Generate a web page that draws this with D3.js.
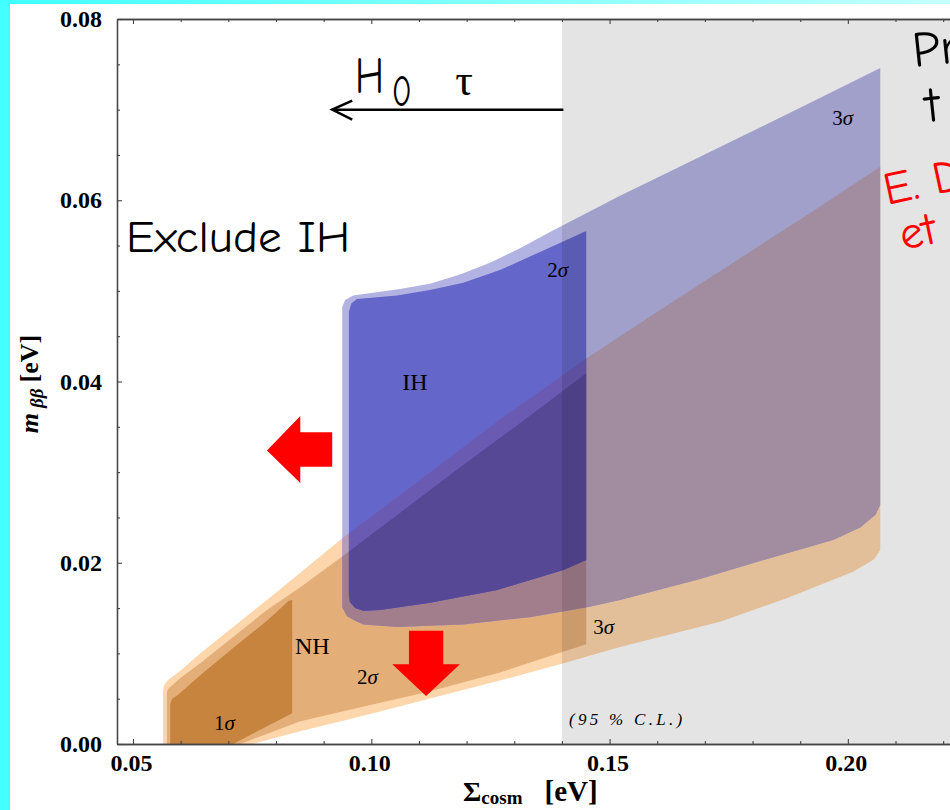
<!DOCTYPE html>
<html><head><meta charset="utf-8">
<script src="https://cdn.jsdelivr.net/npm/d3@7"></script>
<style>body{margin:0;background:#fff;overflow:hidden}svg{display:block}</style>
</head><body>
<svg id="c" width="950" height="810"></svg>
<script>
// ---------- data ----------
const xMajor = [0.05, 0.10, 0.15, 0.20];
const xMajorLabels = ["0.05", "0.10", "0.15", "0.20"];
const xMinor = [0.06,0.07,0.08,0.09,0.11,0.12,0.13,0.14,0.16,0.17,0.18,0.19,0.21,0.22];
const yMajor = [0.00, 0.02, 0.04, 0.06, 0.08];
const yMajorLabels = ["0.00", "0.02", "0.04", "0.06", "0.08"];
const yMinor = [0.005,0.01,0.015,0.025,0.03,0.035,0.045,0.05,0.055,0.065,0.07,0.075];
const greyStart = 0.14; // shaded (disfavoured) region starts here

// NH regions [sum m_nu, m_bb]
const nh3 = [[0.0563,0],[0.0563,0.0060],[0.0566,0.0066],[0.0574,0.0071],[0.0600,0.0081],[0.0641,0.0100],[0.0710,0.0129],[0.0781,0.0159],[0.0851,0.0189],[0.0939,0.0227],[0.1102,0.0291],[0.1270,0.0358],[0.1453,0.0426],[0.1606,0.0479],[0.1768,0.0534],[0.1921,0.0586],[0.2068,0.0637],[0.2068,0.0214],[0.2055,0.0204],[0.2011,0.0190],[0.1873,0.0161],[0.1732,0.0135],[0.1522,0.0107],[0.1396,0.0088],[0.1270,0.0070],[0.1115,0.0049],[0.0998,0.0033],[0.0851,0.0014],[0.0750,0]];
const nh2 = [[0.0571,0],[0.0571,0.0057],[0.0574,0.0061],[0.0600,0.0073],[0.0641,0.0089],[0.0710,0.0118],[0.0781,0.0148],[0.0851,0.0173],[0.0939,0.0207],[0.1060,0.0255],[0.1186,0.0305],[0.1312,0.0354],[0.1451,0.0409],[0.1451,0.0110],[0.1270,0.0079],[0.1115,0.0057],[0.0998,0.0043],[0.0851,0.0025],[0.0725,0]];
const nh1 = [[0.0578,0],[0.0578,0.0044],[0.0582,0.0050],[0.0594,0.0054],[0.0641,0.0076],[0.0710,0.0106],[0.0781,0.0136],[0.0827,0.0158],[0.0834,0.0159],[0.0834,0.0034],[0.0710,0]];
// IH regions
const ih3 = [[0.0939,0.0151],[0.0939,0.0482],[0.0945,0.0490],[0.0962,0.0495],[0.1060,0.0502],[0.1123,0.0508],[0.1186,0.0518],[0.1249,0.0531],[0.1312,0.0547],[0.1375,0.0565],[0.1522,0.0605],[0.1690,0.0648],[0.1900,0.0702],[0.2068,0.0746],[0.2068,0.0264],[0.2058,0.0253],[0.2026,0.0239],[0.1969,0.0225],[0.1816,0.0202],[0.1690,0.0182],[0.1522,0.0159],[0.1453,0.0151],[0.1333,0.0140],[0.1193,0.0132],[0.1054,0.0129],[0.0983,0.0132],[0.0966,0.0136],[0.0949,0.0141]];
const ih2 = [[0.0953,0.0164],[0.0953,0.0477],[0.0958,0.0486],[0.0970,0.0491],[0.1054,0.0495],[0.1123,0.0501],[0.1193,0.0509],[0.1270,0.0523],[0.1354,0.0543],[0.1451,0.0566],[0.1451,0.0203],[0.1403,0.0192],[0.1264,0.0170],[0.1123,0.0156],[0.1018,0.0148],[0.0983,0.0147],[0.0966,0.0150],[0.0955,0.0157]];

// region labels: [x, y, main, sigma]
const regionLabels = [
  [0.1967, 0.0683, "3", "σ"],
  [0.1369, 0.0515, "2", "σ"],
  [0.1466, 0.0121, "3", "σ"],
  [0.0970, 0.0066, "2", "σ"],
  [0.0670, 0.0015, "1", "σ"]
];
const nameLabels = [[0.1065, 0.0391, "IH"], [0.0840, 0.0099, "NH"]];

// annotation arrows (data coords)
const leftArrow = [[0.0781,0.0324],[0.0851,0.0362],[0.0851,0.0344],[0.0918,0.0344],[0.0918,0.0306],[0.0851,0.0306],[0.0851,0.0288]];
const downArrow = [[0.1079,0.0125],[0.1151,0.0125],[0.1151,0.0088],[0.1186,0.0088],[0.1115,0.0053],[0.1044,0.0088],[0.1079,0.0088]];
const limitArrow = {from:[0.1403,0.0700], to:[0.0918,0.0700], head:[[0.0960,0.0710],[0.0918,0.0700],[0.0960,0.0689]]};

// ---------- drawing ----------
const svg = d3.select("#c");
const W = 950, H = 810;
const x = d3.scaleLinear().domain([0.04664, 0.225]).range([117, 967]);
const y = d3.scaleLinear().domain([0, 0.08]).range([744, 19]);

const defs = svg.append("defs");
const grad = defs.append("linearGradient").attr("id","topg").attr("x1","0").attr("x2","1");
grad.append("stop").attr("offset","0").attr("stop-color","#40ffff");
grad.append("stop").attr("offset","1").attr("stop-color","#c4ffff");

svg.append("rect").attr("width",W).attr("height",H).attr("fill","#fff");
svg.append("rect").attr("x",0).attr("y",0).attr("width",10).attr("height",H).attr("fill","#44ffff");
svg.append("rect").attr("x",0).attr("y",0).attr("width",W).attr("height",4).attr("fill","url(#topg)");

const line = d3.line().x(d => x(d[0])).y(d => y(d[1]));
const pathOf = pts => line(pts) + "Z";

defs.append("clipPath").attr("id","plotClip").append("rect")
  .attr("x",x.range()[0]).attr("y",y(0.08)).attr("width",x.range()[1]-x.range()[0]).attr("height",y(0)-y(0.08));
defs.append("clipPath").attr("id","cNH3").append("path").attr("d",pathOf(nh3));
defs.append("clipPath").attr("id","cNH2").append("path").attr("d",pathOf(nh2));

const plot = svg.append("g").attr("clip-path","url(#plotClip)");
plot.append("path").attr("d",pathOf(nh3)).attr("fill","#fdd6ac");
plot.append("path").attr("d",pathOf(nh2)).attr("fill","#e4ae79");
plot.append("path").attr("d",pathOf(nh1)).attr("fill","#c7843f");
plot.append("path").attr("d",pathOf(ih3)).attr("fill","#b3b3e3");
plot.append("g").attr("clip-path","url(#cNH3)").append("path").attr("d",pathOf(ih3)).attr("fill","#b69db3");
plot.append("g").attr("clip-path","url(#cNH2)").append("path").attr("d",pathOf(ih3)).attr("fill","#a27e8c");
plot.append("path").attr("d",pathOf(ih2)).attr("fill","#6566c9");
plot.append("g").attr("clip-path","url(#cNH3)").append("path").attr("d",pathOf(ih2)).attr("fill","#6a5ab2");
plot.append("g").attr("clip-path","url(#cNH2)").append("path").attr("d",pathOf(ih2)).attr("fill","#574896");
plot.append("rect").attr("x",x(greyStart)).attr("y",y(0.08)).attr("width",x.range()[1]-x(greyStart)).attr("height",y(0)-y(0.08))
  .attr("fill","rgba(0,0,0,0.105)");

// axes
const axColor = "#444";
function styleAxis(g){
  g.select(".domain").attr("stroke",axColor).attr("stroke-width",1.3);
  g.selectAll(".tick line").attr("stroke",axColor).attr("stroke-width",1.1);
  g.selectAll(".tick text").attr("fill","#000").attr("font-family","'Liberation Serif', 'Times New Roman', serif")
    .attr("font-weight","bold");
}
const fmtX = d => xMajorLabels[xMajor.indexOf(d)];
const fmtY = d => yMajorLabels[yMajor.indexOf(d)];

svg.append("g").attr("transform",`translate(0,${y(0)})`)
  .call(d3.axisBottom(x).tickValues(xMinor).tickSize(-3).tickSizeOuter(0).tickFormat(""))
  .call(styleAxis);
svg.append("g").attr("transform",`translate(0,${y(0)})`)
  .call(d3.axisBottom(x).tickValues(xMajor).tickSize(-5).tickSizeOuter(0).tickPadding(10).tickFormat(fmtX))
  .call(styleAxis).call(g=>g.selectAll(".tick text").attr("font-size",24).attr("dx",-2));
svg.append("g").attr("transform",`translate(0,${y(0.08)})`)
  .call(d3.axisTop(x).tickValues(xMinor).tickSize(-3).tickSizeOuter(0).tickFormat(""))
  .call(styleAxis);
svg.append("g").attr("transform",`translate(0,${y(0.08)})`)
  .call(d3.axisTop(x).tickValues(xMajor).tickSize(-5).tickSizeOuter(0).tickFormat(""))
  .call(styleAxis);
svg.append("g").attr("transform",`translate(${x.range()[0]},0)`)
  .call(d3.axisLeft(y).tickValues(yMinor).tickSize(-3).tickSizeOuter(0).tickFormat(""))
  .call(styleAxis);
svg.append("g").attr("transform",`translate(${x.range()[0]},0)`)
  .call(d3.axisLeft(y).tickValues(yMajor).tickSize(-5).tickSizeOuter(0).tickPadding(15).tickFormat(fmtY))
  .call(styleAxis).call(g=>g.selectAll(".tick text").attr("font-size",24));

// axis titles
const serif = "'Liberation Serif', 'Times New Roman', serif";
const yt = svg.append("text").attr("transform","translate(38,384) rotate(-90)")
  .attr("text-anchor","middle").attr("font-family",serif).attr("font-weight","bold").attr("font-size",26);
yt.append("tspan").attr("font-style","italic").text("m");
yt.append("tspan").attr("font-style","italic").attr("font-size",19).attr("dx",5).attr("dy",5).text("ββ");
yt.append("tspan").attr("dx",6).attr("dy",-5).text("[eV]");

const xt = svg.append("text").attr("x",463).attr("y",801)
  .attr("font-family",serif).attr("font-weight","bold").attr("font-size",28);
xt.append("tspan").text("Σ");
xt.append("tspan").attr("font-size",19).attr("dy",3).text("cosm");
xt.append("tspan").attr("dx",22).attr("dy",-3).attr("font-size",29).text("[eV]");

// region labels
regionLabels.forEach(([vx,vy,n,s]) => {
  const t = svg.append("text").attr("x",x(vx)).attr("y",y(vy)).attr("font-family",serif).attr("font-size",21);
  t.append("tspan").text(n);
  t.append("tspan").attr("font-style","italic").text(s);
});
nameLabels.forEach(([vx,vy,s]) => {
  svg.append("text").attr("x",x(vx)).attr("y",y(vy)).attr("font-family",serif).attr("font-size",24).text(s);
});
svg.append("text").attr("x",x(0.1415)).attr("y",y(0.0021)).attr("font-family",serif).attr("font-style","italic")
  .attr("font-size",17).attr("textLength",113).attr("lengthAdjust","spacing").text("(95 % C.L.)");

// red arrows
svg.append("path").attr("d",pathOf(leftArrow)).attr("fill","#ff0000");
svg.append("path").attr("d",pathOf(downArrow)).attr("fill","#ff0000");

// H0 tau arrow
svg.append("line").attr("x1",x(limitArrow.from[0])).attr("y1",y(limitArrow.from[1]))
  .attr("x2",x(limitArrow.to[0])).attr("y2",y(limitArrow.to[1])).attr("stroke","#000").attr("stroke-width",2.5);
svg.append("path").attr("d",line(limitArrow.head)).attr("fill","none").attr("stroke","#000").attr("stroke-width",2.5);

const comic = "'Comic Sans MS','Comic Neue','Liberation Sans','DejaVu Sans',sans-serif";
svg.append("text").attr("x",x(0.0966)).attr("y",y(0.0718)).attr("font-family",comic).attr("font-size",52)
  .attr("textLength",29).attr("lengthAdjust","spacingAndGlyphs").text("H");
svg.append("text").attr("x",x(0.1043)).attr("y",y(0.0704)).attr("font-family",comic).attr("font-size",44)
  .attr("textLength",20).attr("lengthAdjust","spacingAndGlyphs").text("0");
svg.append("text").attr("x",x(0.1176)).attr("y",y(0.0716)).attr("font-family",serif).attr("font-size",44).text("τ");

svg.append("text").attr("x",126).attr("y",252).attr("font-family",comic).attr("font-size",44)
  .attr("textLength",224).attr("lengthAdjust","spacingAndGlyphs").text("Exclude IH");

svg.append("text").attr("transform","translate(914,67) rotate(-6)").attr("font-family",comic).attr("font-size",50).text("Pr");
svg.append("text").attr("transform","translate(927,122) rotate(-6)").attr("font-family",comic).attr("font-size",50).text("t");
svg.append("text").attr("transform","translate(887,205) rotate(-12)").attr("font-family",comic).attr("font-size",46)
  .attr("fill","#ff0000").text("E. D");
svg.append("text").attr("transform","translate(903,250) rotate(-12)").attr("font-family",comic).attr("font-size",46)
  .attr("fill","#ff0000").text("et");
</script>
</body></html>
